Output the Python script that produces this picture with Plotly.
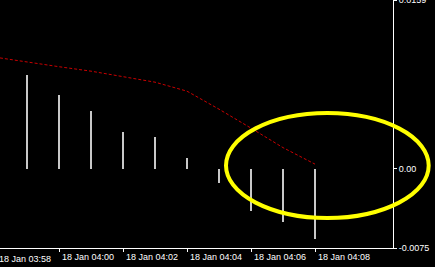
import plotly.graph_objects as go
from datetime import datetime, timedelta

# ---- data ----
times = ["2024-01-18 03:58", "2024-01-18 03:59", "2024-01-18 04:00", "2024-01-18 04:01",
         "2024-01-18 04:02", "2024-01-18 04:03", "2024-01-18 04:04", "2024-01-18 04:05",
         "2024-01-18 04:06", "2024-01-18 04:07", "2024-01-18 04:08"]
histogram = [None, 0.00887, 0.00698, 0.00547, 0.00349, 0.00302, 0.00104,
             -0.00139, -0.00396, -0.00507, -0.00667]
signal = [0.01052, 0.01005, 0.00962, 0.00920, 0.00868, 0.00816, 0.00731,
          0.00561, 0.00382, 0.00198, 0.00042]
y_tick_values = [0.0159, 0.0, -0.0075]
y_tick_labels = ["0.0159", "0.00", "-0.0075"]
x_tick_times = ["2024-01-18 04:00", "2024-01-18 04:02", "2024-01-18 04:04",
                "2024-01-18 04:06", "2024-01-18 04:08"]
first_label_time = "2024-01-18 03:58"

# ---- layout constants ----
W, H = 435, 267
plot_w, plot_h = 393, 248
fmt = "%Y-%m-%d %H:%M"
t_first = datetime.strptime(times[0], fmt)
x_start = t_first + timedelta(seconds=9.375)
x_end = datetime.strptime(times[-1], fmt) + timedelta(seconds=146.25)
span = (x_end - x_start).total_seconds()
font = dict(family="Liberation Sans, Arial, sans-serif", size=9, color="#ffffff")

fig = go.Figure()
fig.add_trace(go.Bar(
    x=times, y=histogram, width=[3750] * len(times),
    marker=dict(color="#c8c8c8", line=dict(width=0)),
))
fig.add_trace(go.Scatter(
    x=times, y=signal, mode="lines",
    line=dict(color="#c80000", width=1, dash="3px,2px"),
))

# clipped first time label (its tick lies just left of the visible window)
lbl_dt = datetime.strptime(first_label_time, fmt)
fig.add_annotation(
    xref="paper", yref="paper",
    x=(lbl_dt - x_start).total_seconds() / span, y=0,
    xanchor="left", yanchor="top", xshift=2, yshift=-4,
    text=datetime.strftime(lbl_dt, "%d %b %H:%M"), showarrow=False, font=font,
)

# highlight ellipse
fig.add_shape(
    type="circle", xref="paper", yref="paper",
    x0=226 / plot_w, x1=428.7 / plot_w,
    y0=1 - 218 / plot_h, y1=1 - 113 / plot_h,
    line=dict(color="#ffff00", width=4), layer="above",
)

fig.update_layout(
    width=W, height=H,
    margin=dict(l=0, r=W - plot_w, t=0, b=H - plot_h, autoexpand=False),
    paper_bgcolor="#000000", plot_bgcolor="#000000",
    showlegend=False, bargap=0,
    font=font,
    xaxis=dict(
        type="date", range=[x_start, x_end], automargin=False,
        tickvals=x_tick_times, tickformat="%d %b %H:%M",
        ticklabelposition="outside right", ticklabelshift=2,
        ticklabeloverflow="allow",
        showline=True, linecolor="#ffffff", linewidth=1,
        ticks="outside", ticklen=3, tickcolor="#ffffff", tickwidth=1,
        showgrid=False, zeroline=False, tickfont=font,
    ),
    yaxis=dict(
        side="right", range=[-0.0075, 0.01592], automargin=False,
        tickvals=y_tick_values, ticktext=y_tick_labels,
        ticklabeloverflow="allow",
        showline=True, linecolor="#ffffff", linewidth=1,
        ticks="outside", ticklen=3, tickcolor="#ffffff", tickwidth=1,
        ticklabelstandoff=0,
        showgrid=False, zeroline=False, tickfont=font,
    ),
)

fig.write_html("out.html")
